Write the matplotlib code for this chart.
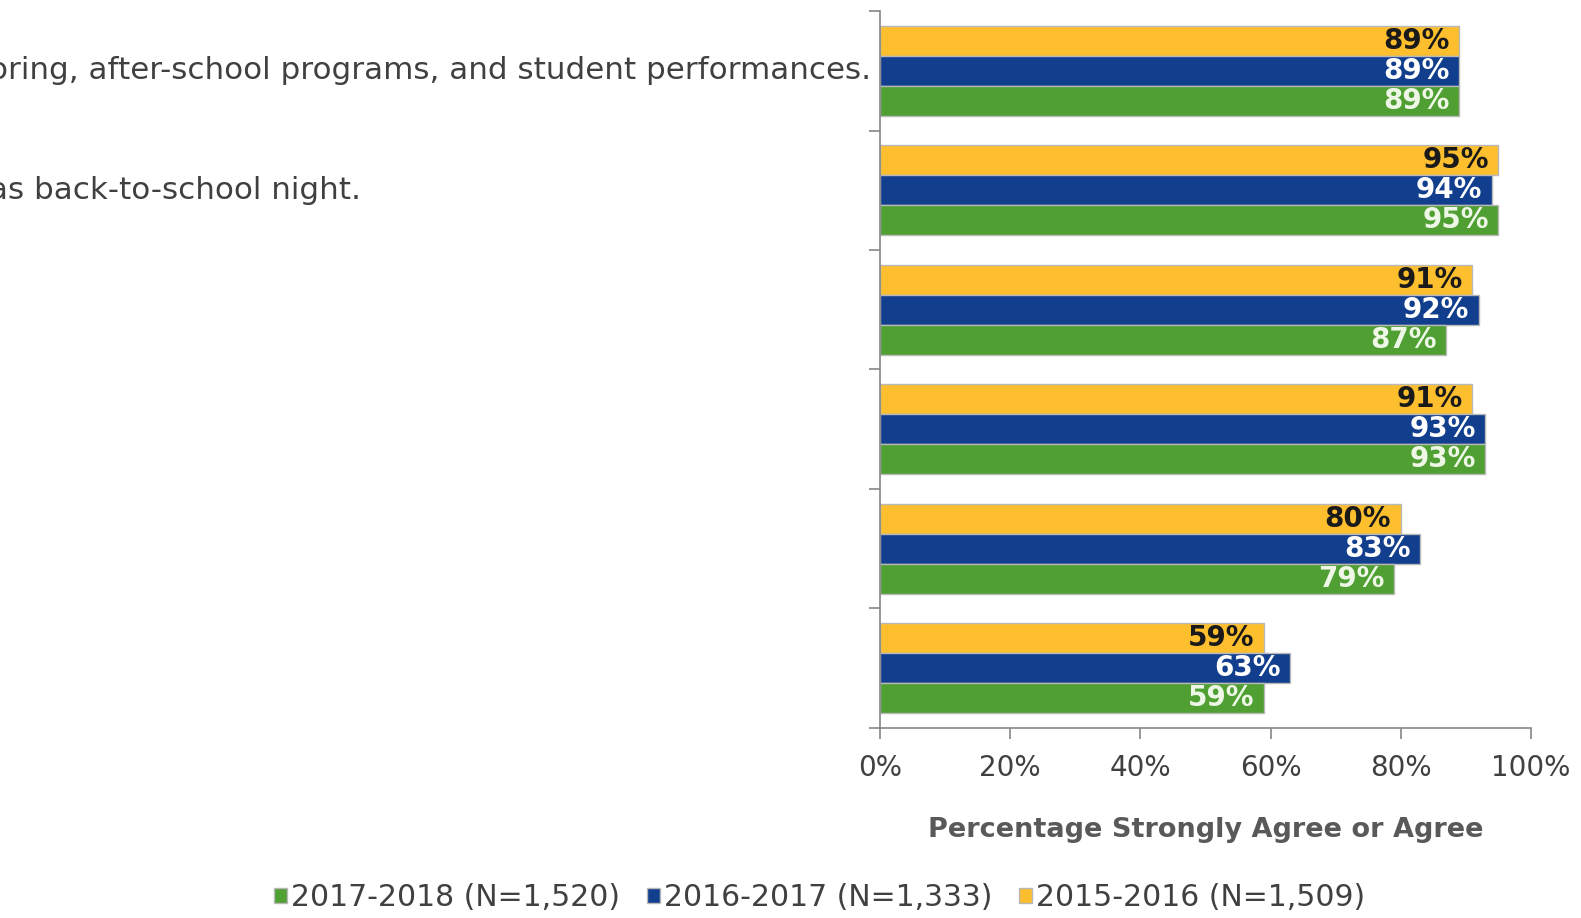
import matplotlib
matplotlib.use("Agg")
import matplotlib.pyplot as plt
import matplotlib.transforms as mtransforms
from matplotlib.patches import Patch
import numpy as np

# category labels, top to bottom (only the visible parts of the original)
categories = [
    "oring, after-school programs, and student performances.",
    "as back-to-school night.",
    "",
    "",
    "",
    "",
]
series_names = [
    "2015-2016 (N=1,509)",
    "2016-2017 (N=1,333)",
    "2017-2018 (N=1,520)",
]
pct_2015 = [89, 95, 91, 91, 80, 59]
pct_2016 = [89, 94, 92, 93, 83, 63]
pct_2017 = [89, 95, 87, 93, 79, 59]
x_ticks = [0, 20, 40, 60, 80, 100]

colors = ["#FDBF2D", "#123F8D", "#4F9F33"]
label_colors = ["#1a1a1a", "#ffffff", "#eef7e6"]

plt.rcParams["font.family"] = ["DejaVu Sans"]

fig = plt.figure(figsize=(15.81, 9.18), dpi=100)
ax = fig.add_axes([0.5566, 0.207, 0.9684 - 0.5566, 0.988 - 0.207])

n = len(categories)
y = np.arange(n)
h = 0.25
series = [pct_2015, pct_2016, pct_2017]
offsets = [-h, 0, h]  # yellow on top, green at the bottom (y inverted)
for vals, off, col, lcol in zip(series, offsets, colors, label_colors):
    bars = ax.barh(y + off, vals, height=h, color=col,
                   edgecolor="#b8b8b8", linewidth=1.0)
    texts = ax.bar_label(bars, labels=[f"{v}%" for v in vals], padding=-7,
                         label_type="edge", fontsize=20, fontweight="bold",
                         color=lcol)
    for t in texts:
        t.set_ha("right")

ax.set_ylim(n - 0.5, -0.5)
ax.set_xlim(0, 100)
ax.set_xticks(x_ticks)
ax.set_xticklabels([f"{t}%" for t in x_ticks], fontsize=20, color="#404040")
ax.set_yticks(np.arange(n + 1) - 0.5)
ax.set_yticklabels([])
ax.tick_params(axis="both", length=8, width=1.2, color="#868686")
ax.tick_params(axis="x", pad=11)
for s in ["top", "right"]:
    ax.spines[s].set_visible(False)
for s in ["left", "bottom"]:
    ax.spines[s].set_color("#868686")
    ax.spines[s].set_linewidth(1.2)

ax.set_xlabel("Percentage Strongly Agree or Agree", fontsize=19.5,
              fontweight="bold", color="#595959", labelpad=25)

# category labels, cut by the left edge of the picture
trans = mtransforms.blended_transform_factory(fig.transFigure, ax.transData)
for i, lab in enumerate(categories):
    if lab:
        fig.text(-0.007, i, lab, transform=trans, ha="left", va="center",
                 fontsize=22.3, color="#404040")

handles = [Patch(facecolor=c, edgecolor="#b8b8b8") for c in colors]
order = [2, 1, 0]
fig.legend([handles[i] for i in order], [series_names[i] for i in order],
           loc="center", bbox_to_anchor=(0.5186, 0.022), ncol=3, frameon=False,
           fontsize=21.5, handlelength=0.42, handleheight=0.42,
           handletextpad=0.15, columnspacing=0.9, labelcolor="#404040")

fig.savefig("out.png", dpi=100)
